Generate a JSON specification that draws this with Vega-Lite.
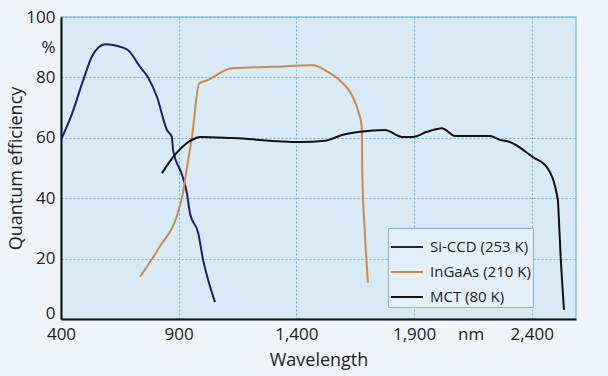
{
  "$schema": "https://vega.github.io/schema/vega-lite/v6.json",
  "width": 515,
  "height": 302,
  "autosize": "none",
  "padding": {"left": 61, "top": 17, "right": 32, "bottom": 57},
  "background": "#eef4fa",
  "config": {
    "font": "Open Sans",
    "view": {"fill": "#d9eaf7", "stroke": "#8ebfe6", "strokeWidth": 1.5},
    "legend": {"strokeColor": "#8aaee0", "fillColor": "#e4f0f9"}
  },
  "data": {
    "values": [
      {"s": "Si-CCD (253 K)", "w": 404, "q": 60},
      {"s": "Si-CCD (253 K)", "w": 447, "q": 68},
      {"s": "Si-CCD (253 K)", "w": 494, "q": 79},
      {"s": "Si-CCD (253 K)", "w": 532, "q": 87},
      {"s": "Si-CCD (253 K)", "w": 560, "q": 90},
      {"s": "Si-CCD (253 K)", "w": 587, "q": 91},
      {"s": "Si-CCD (253 K)", "w": 621, "q": 90.7},
      {"s": "Si-CCD (253 K)", "w": 685, "q": 89},
      {"s": "Si-CCD (253 K)", "w": 736, "q": 83.5},
      {"s": "Si-CCD (253 K)", "w": 770, "q": 80},
      {"s": "Si-CCD (253 K)", "w": 808, "q": 73.5},
      {"s": "Si-CCD (253 K)", "w": 850, "q": 62.6},
      {"s": "Si-CCD (253 K)", "w": 871, "q": 60.3},
      {"s": "Si-CCD (253 K)", "w": 876, "q": 56},
      {"s": "Si-CCD (253 K)", "w": 913, "q": 48},
      {"s": "Si-CCD (253 K)", "w": 935, "q": 41.7},
      {"s": "Si-CCD (253 K)", "w": 948, "q": 35},
      {"s": "Si-CCD (253 K)", "w": 983, "q": 28.5},
      {"s": "Si-CCD (253 K)", "w": 1004, "q": 19.5},
      {"s": "Si-CCD (253 K)", "w": 1025, "q": 13},
      {"s": "Si-CCD (253 K)", "w": 1054, "q": 5.6},
      {"s": "InGaAs (210 K)", "w": 736, "q": 14},
      {"s": "InGaAs (210 K)", "w": 820, "q": 24},
      {"s": "InGaAs (210 K)", "w": 892, "q": 34},
      {"s": "InGaAs (210 K)", "w": 918, "q": 41.7},
      {"s": "InGaAs (210 K)", "w": 940, "q": 52.6},
      {"s": "InGaAs (210 K)", "w": 956, "q": 60},
      {"s": "InGaAs (210 K)", "w": 987, "q": 78},
      {"s": "InGaAs (210 K)", "w": 1020, "q": 79},
      {"s": "InGaAs (210 K)", "w": 1126, "q": 83},
      {"s": "InGaAs (210 K)", "w": 1300, "q": 83.5},
      {"s": "InGaAs (210 K)", "w": 1471, "q": 84},
      {"s": "InGaAs (210 K)", "w": 1530, "q": 82},
      {"s": "InGaAs (210 K)", "w": 1585, "q": 79},
      {"s": "InGaAs (210 K)", "w": 1640, "q": 73.5},
      {"s": "InGaAs (210 K)", "w": 1662, "q": 69},
      {"s": "InGaAs (210 K)", "w": 1678, "q": 63.6},
      {"s": "InGaAs (210 K)", "w": 1680, "q": 48},
      {"s": "InGaAs (210 K)", "w": 1691, "q": 28.5},
      {"s": "InGaAs (210 K)", "w": 1704, "q": 12},
      {"s": "MCT (80 K)", "w": 829, "q": 48.3},
      {"s": "MCT (80 K)", "w": 876, "q": 53.6},
      {"s": "MCT (80 K)", "w": 956, "q": 59.3},
      {"s": "MCT (80 K)", "w": 990, "q": 60.3},
      {"s": "MCT (80 K)", "w": 1131, "q": 59.9},
      {"s": "MCT (80 K)", "w": 1415, "q": 58.6},
      {"s": "MCT (80 K)", "w": 1521, "q": 59},
      {"s": "MCT (80 K)", "w": 1598, "q": 61},
      {"s": "MCT (80 K)", "w": 1670, "q": 62},
      {"s": "MCT (80 K)", "w": 1776, "q": 62.6},
      {"s": "MCT (80 K)", "w": 1849, "q": 60.3},
      {"s": "MCT (80 K)", "w": 1895, "q": 60.3},
      {"s": "MCT (80 K)", "w": 1955, "q": 62},
      {"s": "MCT (80 K)", "w": 2018, "q": 63.2},
      {"s": "MCT (80 K)", "w": 2074, "q": 60.6},
      {"s": "MCT (80 K)", "w": 2222, "q": 60.6},
      {"s": "MCT (80 K)", "w": 2265, "q": 59.3},
      {"s": "MCT (80 K)", "w": 2307, "q": 58.6},
      {"s": "MCT (80 K)", "w": 2405, "q": 53.6},
      {"s": "MCT (80 K)", "w": 2464, "q": 50.3},
      {"s": "MCT (80 K)", "w": 2511, "q": 39.4},
      {"s": "MCT (80 K)", "w": 2513, "q": 36.8},
      {"s": "MCT (80 K)", "w": 2522, "q": 21.9},
      {"s": "MCT (80 K)", "w": 2537, "q": 3}
    ]
  },
  "mark": {"type": "line", "strokeWidth": 2, "interpolate": "monotone", "clip": true},
  "encoding": {
    "x": {
      "field": "w",
      "type": "quantitative",
      "scale": {"domain": [400, 2588], "nice": false, "zero": false},
      "axis": {
        "title": "Wavelength",
        "titleFontSize": 18,
        "titleFontWeight": "normal",
        "titleColor": "#222",
        "titlePadding": 9,
        "values": [400, 900, 1400, 1900, 2140, 2400],
        "labelExpr": "datum.value == 2140 ? 'nm' : format(datum.value, ',')",
        "labelFontSize": 17,
        "labelColor": "#222",
        "labelPadding": 7,
        "labelFlush": false,
        "ticks": false,
        "domainColor": "#111",
        "domainWidth": 2,
        "gridColor": "#6fb0e0",
        "gridDash": [2, 2],
        "gridWidth": 1,
        "gridOpacity": {"condition": {"test": "datum.value == 2140 || datum.value == 400", "value": 0}, "value": 1}
      }
    },
    "y": {
      "field": "q",
      "type": "quantitative",
      "scale": {"domain": [0, 100], "nice": false},
      "axis": {
        "title": "Quantum efficiency",
        "titleFontSize": 18,
        "titleFontWeight": "normal",
        "titleColor": "#222",
        "titleX": -36,
        "titleY": 151,
        "titleAnchor": "middle",
        "values": [0, 20, 40, 60, 80, 90, 100],
        "labelExpr": "datum.value == 90 ? '%' : datum.label",
        "labelFontSize": 17,
        "labelColor": "#222",
        "labelPadding": 6,
        "labelFlush": false,
        "labelOffset": {"condition": {"test": "datum.value == 0", "value": -6}, "value": 0},
        "ticks": false,
        "domainColor": "#111",
        "domainWidth": 2,
        "gridColor": "#6fb0e0",
        "gridDash": [2, 2],
        "gridWidth": 1,
        "gridOpacity": {"condition": {"test": "datum.value == 90 || datum.value == 0", "value": 0}, "value": 1}
      }
    },
    "color": {
      "field": "s",
      "type": "nominal",
      "scale": {
        "domain": ["Si-CCD (253 K)", "InGaAs (210 K)", "MCT (80 K)"],
        "range": ["#1c1f6b", "#c98a4b", "#111111"]
      },
      "legend": {
        "title": null,
        "orient": "none",
        "legendX": 327,
        "legendY": 211,
        "symbolType": "stroke",
        "symbolSize": 1024,
        "symbolStrokeWidth": 2,
        "labelFontSize": 15,
        "labelColor": "#222",
        "labelOffset": 6,
        "rowPadding": -9,
        "padding": 2
      }
    }
  }
}
